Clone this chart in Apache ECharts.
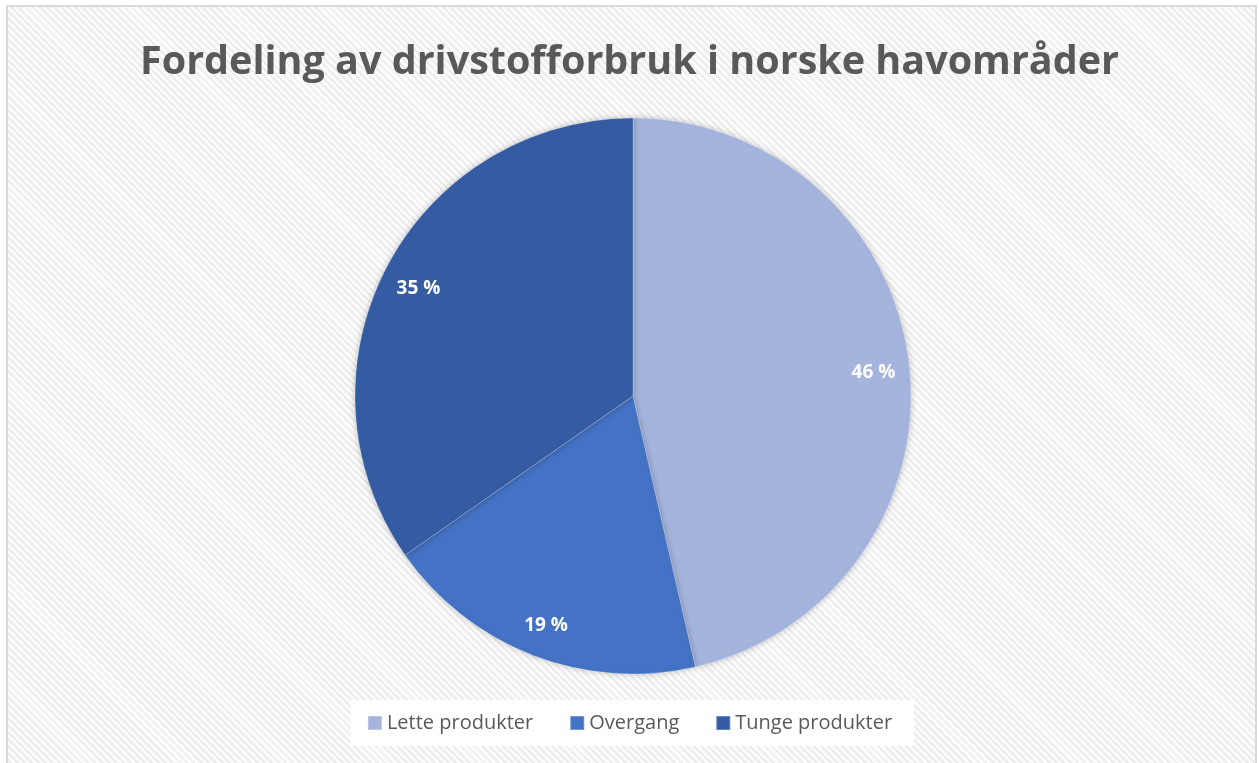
<!DOCTYPE html>
<html>
<head>
<meta charset="utf-8">
<script src="https://cdn.jsdelivr.net/npm/echarts@6/dist/echarts.min.js"></script>
<style>
html,body{margin:0;padding:0;background:#fff;overflow:hidden;}
#wrap{position:absolute;left:6px;top:5px;width:1251px;height:770px;border:2px solid #d9d9d9;box-sizing:border-box;
background-color:#fbfbfb;
background-image:repeating-linear-gradient(45deg,#fbfbfb 0px,#fbfbfb 3px,#ececec 3px,#ececec 5px);}
#chart{position:absolute;left:0;top:0;width:1259px;height:763px;}
</style>
</head>
<body>
<div id="wrap"></div>
<div id="chart"></div>
<script>
const titleText = 'Fordeling av drivstofforbruk i norske havområder';
const categories = ['Lette produkter', 'Overgang', 'Tunge produkter'];
const values = [46.4, 18.9, 34.7];
const colors = ['#A5B4DC', '#4472C4', '#355CA3'];

const data = categories.map((c, i) => ({ name: c, value: values[i] }));
const chart = echarts.init(document.getElementById('chart'), null, { renderer: 'canvas' });
chart.setOption({
  backgroundColor: 'transparent',
  color: colors,
  title: {
    text: titleText, left: 'center', top: 38,
    textStyle: { fontFamily: 'Open Sans', fontWeight: 'bold', fontSize: 39.5, color: '#595959' }
  },
  legend: {
    data: categories, bottom: 17, left: 'center',
    backgroundColor: '#ffffff', padding: [13, 22, 13, 16],
    itemWidth: 14, itemHeight: 14, itemGap: 36, icon: 'rect',
    textStyle: { fontFamily: 'Open Sans', fontSize: 20, color: '#595959', padding: [0, 0, 0, 0] }
  },
  series: [
    {
      type: 'pie', center: [633, 396], radius: [0, 278], startAngle: 90, clockwise: true,
      data: data, label: { show: false }, labelLine: { show: false }, silent: true,
      itemStyle: { shadowBlur: 6, shadowColor: 'rgba(0,0,0,0.25)', borderColor: 'rgba(255,255,255,0.25)', borderWidth: 1 },
      emphasis: { disabled: true }
    },
    {
      type: 'pie', center: [633, 400], radius: [200, 278], startAngle: 90, clockwise: true,
      data: data, silent: true, legendHoverLink: false,
      itemStyle: { color: 'transparent' },
      label: {
        show: true, position: 'inside', fontFamily: 'Open Sans', fontWeight: 'bold', fontSize: 19, color: '#ffffff',
        formatter: p => Math.round(p.percent) + ' %'
      },
      labelLine: { show: false },
      emphasis: { disabled: true }
    }
  ]
});
</script>
</body>
</html>
